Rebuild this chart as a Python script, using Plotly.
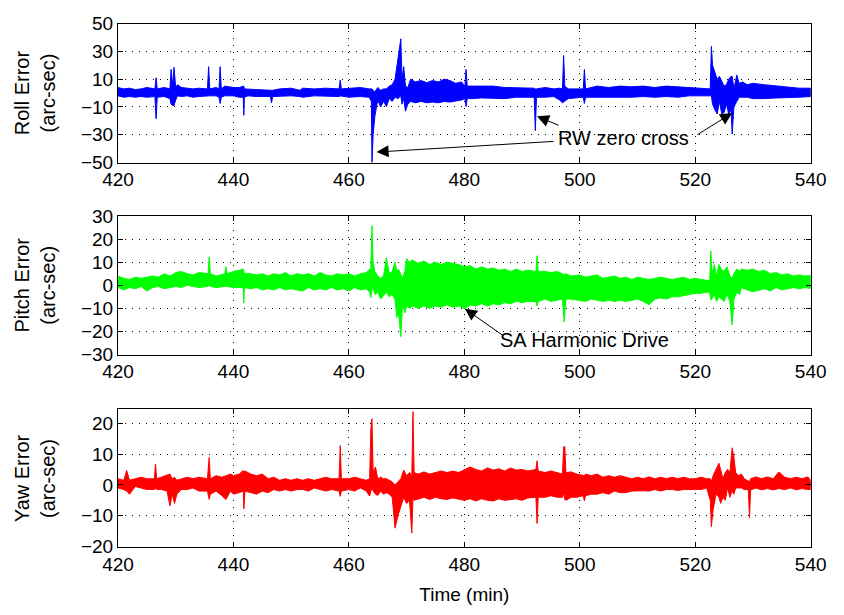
import plotly.graph_objects as go

# ---------------- data (envelopes) ----------------
roll_t = [420, 421, 422, 423, 424, 425, 426.4, 426.6, 426.8, 428, 429.0, 429.2, 429.5, 429.7, 430.0, 430.3,
          431, 432, 433, 434, 435.5, 435.7, 435.9, 437, 437.5, 437.7, 437.9, 438.5, 440, 441, 441.7, 441.8,
          441.9, 442.5, 444, 446.4, 446.6, 446.8, 448, 450, 451.5, 452, 454, 456, 458.3, 458.5, 458.7, 460,
          462, 463.5, 463.9, 464.0, 464.2, 464.5, 465, 465.5, 466, 466.5, 467, 467.5, 468, 468.5, 469.0,
          469.2, 469.5, 469.8, 470.2, 470.7, 471.5, 472.5, 473.5, 474.5, 475.5, 476.5, 477.5, 478.5, 479.5,
          480.1, 480.3, 480.5, 481.5, 483, 485, 487, 489, 491, 492.1, 492.3, 492.5, 494, 495.5, 496.5, 497.0,
          497.2, 497.4, 498, 500.6, 500.8, 501.0, 503, 505, 507, 509, 511, 513, 515, 517, 519, 521, 522.6,
          522.8, 523.0, 523.4, 523.8, 524.2, 524.6, 525.0, 525.4, 525.8, 526.2, 526.4, 526.7, 527.2, 527.6,
          528.2, 529, 530, 532, 534, 536, 538, 540]
roll_hi = [4, 3, 3.5, 2.5, 3, 4, 3, 11, 3, 4, 3, 17, 5, 18.5, 4, 6,
           4, 3.5, 3, 3.5, 3, 19, 3, 4, 3, 19, 3, 5, 4, 4, 5.3, 5,
           3, 3, 2.5, 2, 2, 2, 3, 3.5, 2, 3.5, 3, 3.5, 3, 9.3, 3, 3.5,
           4, 3, 3, 3, 2, 1, 4, 2, 3, 3, 5, 6, 10, 25, 39,
           10, 19, 5, 4, 10, 8, 9, 7.5, 9, 8, 10, 9, 7, 8,
           5, 17, 5, 5, 4.5, 5, 4, 4, 3.5, 3.5, 3, 3, 4, 3, 3.5, 3,
           27, 5, 3, 3, 17, 3, 5, 4, 5, 4.5, 5, 4, 5, 4.5, 4, 3, 3,
           33.6, 20, 15, 10, 12, 8, 5, 6, 10, 12, 12, 3, 13, 7,
           8, 6, 7, 6, 5, 4, 3.5, 3.5]
roll_lo = [-2, -3, -2.5, -3, -2.5, -3, -2.5, -18.5, -3, -2.5, -4, -8, -9, -9, -5, -2,
           -2.5, -2, -3, -2.5, -2, -2, -2, -2, -3, -7.5, -3, -2, -2, -3, -3, -16,
           -3, -2, -2.5, -2.5, -7, -2.5, -2, -2, -2.5, -3, -2, -2, -2.5, -2, -2, -3,
           -2.5, -3, -6, -50, -30, -16.7, -5, -10, -6, -9.7, -4, -6, -3, -4, -2,
           -8, -4, -13, -8, -6, -7, -6, -7, -6.5, -7, -6, -6.5, -6, -5,
           -4, -9.7, -4, -4, -3.5, -3.5, -4, -3, -3, -3, -27, -3, -3, -2.5, -5, -7,
           -7, -6, -4, -3, -7.5, -3, -3, -2.5, -3, -3, -2.5, -3, -2.5, -3, -2, -2, -2,
           -2, -8, -12, -15, -6, -15, -14, -8, -15, -12, -29.4, -10, -6, -3,
           -3, -3, -4, -4, -3.5, -3, -3, -2.5]

pitch_t = [420, 421, 422, 423, 424, 425, 426, 427, 428, 429, 430, 431, 432, 433, 434, 435.6, 435.8, 436.0,
           437, 438.5, 438.7, 438.9, 440, 441, 441.7, 441.8, 441.9, 443, 444, 445, 446, 447, 448, 449, 450,
           451, 452, 453, 454, 455, 456, 457, 458, 459, 460, 461, 462, 463, 463.6, 463.8, 464.0, 464.2,
           464.5, 465, 465.5, 466, 466.5, 467, 467.5, 468, 468.3, 468.6, 469.0, 469.3, 469.7, 470.0, 470.5,
           471, 472, 473, 474, 475, 476, 477, 478, 479, 480.1, 481, 482, 483, 484, 485, 486, 487, 488, 489,
           490, 491, 492.4, 492.6, 492.8, 494, 495, 496, 497.0, 497.3, 497.6, 498.5, 500, 501, 502, 503,
           504, 505, 506, 507, 508, 509, 510, 511, 512, 513, 514, 515, 516, 517, 518, 519, 520, 521, 522,
           522.5, 522.7, 522.9, 523.3, 523.7, 524.1, 524.5, 525, 525.5, 526.0, 526.4, 526.7, 527.2, 527.7,
           528, 529, 530, 531, 532, 533, 534, 535, 536, 537, 538, 539, 540]
pitch_hi = [4, 3, 2.5, 3.5, 3, 3.5, 4, 3.5, 5, 4, 5.5, 6, 5, 4.5, 5.5, 5, 12.3, 5,
            4, 5, 8, 5, 6, 6.5, 7, 6, 5, 5, 4.5, 5, 4, 5, 4.5, 5.5, 4,
            5, 4.5, 5, 4, 5.5, 4.5, 4, 5, 4.5, 5, 4, 5, 5.5, 7, 7, 25.8, 10,
            6, 4, 3, 4, 12, 5, 6, 10, 6, 7, 5, 3, 6, 11.5, 10,
            11, 9.5, 10.5, 9, 10, 9, 10, 9.5, 9, 8, 8.5, 7, 8, 7, 7.5, 6.5, 7, 6, 7,
            6, 6.5, 6, 12.8, 6, 6, 5.5, 6, 5, 4.6, 5, 4, 4.5, 3.5, 4, 4.5,
            3, 3.5, 4, 3, 3.5, 2.5, 3.5, 3, 2.5, 3, 3.5, 3, 2.5, 3, 3.5, 2.5, 3, 2.5, 2,
            2, 14.9, 5, 9, 4, 9, 7, 6, 8, 4, 3, 5, 7, 6,
            7, 6.5, 7, 6, 6.5, 5, 5.5, 4.5, 5, 4, 4.5, 4, 4.2]
pitch_lo = [-1, -2, -1, -1.5, -0.5, -2.5, -1, -0.5, -1.5, -1, -0.5, -1, 0, -0.5, -1, -0.5, 0, -0.5,
            -1, -0.5, -0.5, -0.5, -1, -1, -1, -7.7, -1, -1.5, -1, -2, -1.5, -2, -1, -2, -1.5,
            -2, -2.5, -1, -2, -1.5, -2, -1, -2, -1.5, -2.5, -1, -2, -1.5, -3, -5.5, -2, -1,
            -4, -3, -6, -4.5, -3, -5, -4, -6.3, -14, -12, -22.3, -8, -12, -9, -10,
            -9, -10, -9, -10, -9, -9.5, -8.5, -9.5, -9, -10.2, -8.5, -9, -8, -9, -8, -8.5, -7.5, -8, -7,
            -7.5, -7, -7, -9, -7, -6, -7, -6.5, -6, -16, -6, -6, -6.5, -7, -6, -6.5,
            -7, -6.5, -7, -6.5, -7, -6.5, -6, -7, -8.4, -6, -5.5, -6, -5, -5, -4.5, -4, -3.5, -3.5, -3,
            -3, -6.3, -6, -4, -7, -5, -6, -7, -4, -7, -17.2, -6, -3, -4,
            -1, -2, -2.8, -2, -1.5, -2.5, -1, -2, -1.5, -1, -1.5, -1, -1.4]

yaw_t = [420, 421, 421.5, 422, 423, 424, 425, 426.3, 426.5, 426.7, 427.5, 428.5, 429.0, 429.4, 429.8, 430.2,
         431, 432, 433, 434, 435.5, 435.8, 436.0, 437, 438, 438.7, 439.5, 440, 441, 441.7, 441.8, 442, 443,
         444, 445, 446, 447, 448, 449, 450, 451, 452, 453, 454, 455, 456, 457, 458.3, 458.5, 458.7, 460,
         461, 462, 463, 463.6, 463.8, 464.0, 464.2, 464.6, 465, 465.5, 466, 466.5, 467, 467.5, 468, 468.5,
         469.0, 469.5, 470.0, 470.5, 470.9, 471.1, 471.3, 472, 473, 474, 475, 476, 477, 478, 479, 480, 481,
         482, 483, 484, 485, 486, 487, 488, 489, 490, 491, 492.4, 492.6, 492.8, 494, 495, 496, 497.0, 497.2,
         497.4, 497.6, 498.5, 499.5, 500.6, 500.8, 501, 502, 503, 504, 505, 506, 507, 508, 509, 510, 511,
         512, 513, 514, 515, 516, 517, 518, 519, 520, 521, 522, 522.6, 522.8, 523.1, 523.6, 524.1, 524.4,
         524.8, 525.2, 525.6, 526.0, 526.4, 526.7, 527.0, 527.5, 528, 528.5, 529.2, 529.4, 529.6, 530.5,
         531.5, 532.5, 533.5, 534.5, 535.5, 536.5, 537.5, 538.5, 539.5, 540]
yaw_hi = [2, 1.5, 4.7, 1.5, 2, 2.5, 2, 2, 6.8, 2, 2.5, 3, 3.5, 2, 2.5, 1.5,
          2, 2.5, 2, 2.5, 2, 8.9, 2, 3, 2.5, 3, 3.5, 3, 3.5, 4.7, 4, 4.5, 3.5,
          3, 3.5, 2, 2.5, 1.5, 2, 1.5, 2, 1.5, 2, 1.5, 2, 2.5, 2, 2, 12.7, 2, 2,
          2.5, 2, 1.5, 2, 18, 21.4, 4, 5.8, 2, 2.5, 2, 2, 1.5, 1, 0, 1,
          2, 4.8, 3, 4, 3, 23.7, 4, 3.5, 4.2, 3.5, 4, 4.5, 4, 4.5, 4, 5, 5.8,
          5, 4.5, 5.5, 4.8, 5.2, 4.5, 5.5, 4.8, 5, 4.5, 5, 7.8, 4.5, 4, 4.5, 4, 3.5, 12.3,
          12.5, 4, 4.2, 3.5, 3, 3, 3.5, 3, 3.5, 2.5, 3, 2.5, 3, 2.5, 2, 2.5, 2,
          2.6, 2, 2.5, 2, 2.5, 2, 2.5, 2, 2, 2.5, 2, 2, 1, 3, 5, 7, 5,
          2, 4, 5, 4, 12, 9, 4, 3, 3.5, 2, 1, 1, 2, 2.6,
          2, 2.6, 2, 4.2, 2.5, 2, 2.5, 2, 2.6, 1.5]
yaw_lo = [-1, -1.5, -2, -3, -0.5, -1, -1.5, -1.5, -1, -1.5, -1.5, -2, -6.8, -3, -6, -3,
          -1.5, -1.5, -1, -2, -2, -4.7, -3, -2, -3.5, -4.7, -2, -3, -2.5, -2, -7.8, -2, -2.5,
          -3, -2, -2.5, -1.5, -2, -1.5, -2, -1.5, -1.5, -2, -1, -1.5, -2, -1.5, -2, -3.7, -2, -1.5,
          -2, -1, -2, -3.6, -2, -1, -2, -3, -3.4, -2, -3, -2.5, -3, -4, -14, -10,
          -7, -4, -6, -5, -15.6, -4, -5, -4.5, -4, -4.7, -4, -4.5, -4.7, -4.2, -4.5, -5, -4.5,
          -5.2, -4.5, -5, -5.2, -4.5, -5, -4.8, -4.5, -5, -4.2, -4, -12.5, -4, -4, -3.5, -4, -4, -2.6,
          -4.7, -5, -4, -4, -3.5, -5.2, -3.5, -3, -3, -2.5, -3, -2, -2.5, -2.5, -2, -2, -1.9,
          -2, -1.5, -2, -1.5, -1.5, -1.8, -1.5, -1.5, -1.5, -1.5, -1, -5, -13.5, -8, -3, -4, -6,
          -4, -5, -1, -4, -2, -3, -1, -1, -1, -1.5, -1.6, -10.7, -1.6, -1,
          -1.6, -1.2, -1.6, -1.2, -1.5, -1, -1.6, -1.2, -1.5, -1.5]

x_ticks = [420, 440, 460, 480, 500, 520, 540]
roll_ticks = [-50, -30, -10, 10, 30, 50]
pitch_ticks = [-30, -20, -10, 0, 10, 20, 30]
yaw_ticks = [-20, -10, 0, 10, 20]

panel_titles = ["Roll Error<br>(arc-sec)", "Pitch Error<br>(arc-sec)", "Yaw Error<br>(arc-sec)"]
colors = ["#0000ff", "#00ff00", "#ff0000"]

# ---------------- figure ----------------
W, H = 844, 615
FONT = "Liberation Sans, Arial, Helvetica, sans-serif"
FS = 19

fig = go.Figure()
series = [(roll_t, roll_hi, roll_lo), (pitch_t, pitch_hi, pitch_lo), (yaw_t, yaw_hi, yaw_lo)]
for i, ((t, hi, lo), c) in enumerate(zip(series, colors)):
    ax = "" if i == 0 else str(i + 1)
    fig.add_trace(go.Scatter(
        x=list(t) + list(t)[::-1], y=list(hi) + list(lo)[::-1],
        mode="lines", fill="toself", fillcolor=c,
        line=dict(color=c, width=1), hoverinfo="skip", showlegend=False,
        xaxis="x" + ax, yaxis="y" + ax))

x0, x1 = 106 / W, 826 / W
tops = [14, 213.3, 413.3]
bots = [158, 356.7, 555.7]
yranges = [[-50, 50], [-30, 30], [-20, 24.5]]
yticks = [roll_ticks, pitch_ticks, yaw_ticks]

axis_common = dict(showline=True, mirror="allticks", linecolor="black", linewidth=1,
                   ticks="inside", ticklen=5, tickcolor="black",
                   showgrid=True, gridcolor="black", gridwidth=1, griddash="1px,6px",
                   zeroline=False, tickfont=dict(family=FONT, size=FS, color="black"))

layout = dict(width=W, height=H, margin=dict(l=0, r=0, t=0, b=0),
              paper_bgcolor="white", plot_bgcolor="white", font=dict(family=FONT, size=FS, color="black"),
              annotations=[])
for i in range(3):
    ax = "" if i == 0 else str(i + 1)
    layout["xaxis" + ax] = dict(axis_common, domain=[x0, x1], range=[420, 540], tickvals=x_ticks,
                                anchor="y" + ax)
    layout["yaxis" + ax] = dict(axis_common, domain=[1 - bots[i] / H, 1 - tops[i] / H],
                                range=yranges[i], tickvals=yticks[i], anchor="x" + ax)
    layout["annotations"].append(dict(
        text=panel_titles[i], xref="paper", yref="paper", x=20 / W, y=1 - (tops[i] + bots[i]) / 2 / H,
        textangle=-90, showarrow=False, xanchor="center", yanchor="middle",
        font=dict(family=FONT, size=20, color="black")))

layout["xaxis3"]["title"] = dict(text="Time (min)", font=dict(family=FONT, size=FS, color="black"),
                                 standoff=14)

fig.update_layout(**layout)

# callouts
arrow = dict(showarrow=True, arrowhead=2, arrowsize=2.4, arrowwidth=1, arrowcolor="black")
fig.add_annotation(x=464.8, y=-42.4, ax=495.7, ay=-34.7, axref="x", ayref="y", xref="x", yref="y", text="", **arrow)
fig.add_annotation(x=492.6, y=-16.7, ax=496.6, ay=-23.6, axref="x", ayref="y", xref="x", yref="y", text="", **arrow)
fig.add_annotation(x=526.4, y=-14.4, ax=520.1, ay=-30.6, axref="x", ayref="y", xref="x", yref="y", text="", **arrow)
fig.add_annotation(x=507.5, y=-32, xref="x", yref="y", text="RW zero cross", showarrow=False,
                   font=dict(family=FONT, size=FS + 1, color="black"))
fig.add_annotation(x=480.1, y=-10.2, ax=487.0, ay=-22.3, axref="x2", ayref="y2", xref="x2", yref="y2", text="", **arrow)
fig.add_annotation(x=500.8, y=-23.8, xref="x2", yref="y2", text="SA Harmonic Drive", showarrow=False,
                   font=dict(family=FONT, size=FS + 1, color="black"))

fig.write_html("out.html")
